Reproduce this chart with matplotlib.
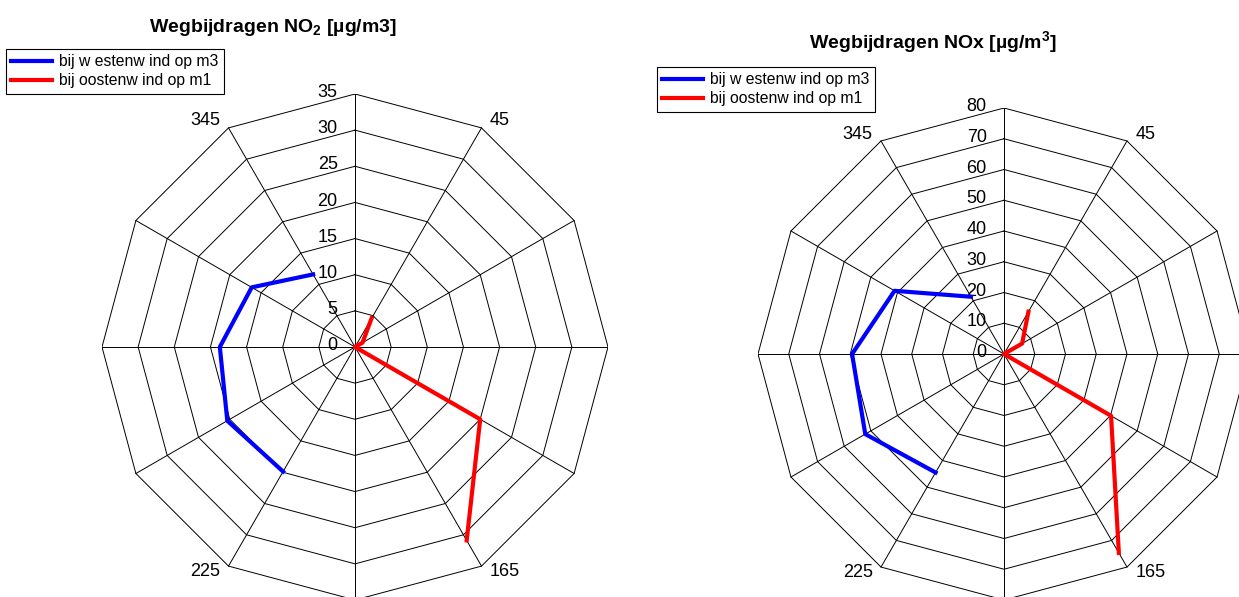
import numpy as np
import matplotlib.pyplot as plt

plt.rcParams['font.family'] = ['Liberation Sans', 'DejaVu Sans']
plt.rcParams['mathtext.fontset'] = 'custom'
plt.rcParams['mathtext.rm'] = 'Liberation Sans'
plt.rcParams['mathtext.bf'] = 'Liberation Sans:bold'

# wind sectors (degrees clockwise from north) and road contributions
west_angles = [210, 240, 270, 300, 330]
east_angles = [30, 60, 90, 120, 150]

no2_west = [19.9, 20.4, 18.7, 16.5, 11.6]
no2_east = [4.6, 1.2, 0.0, 20.0, 30.9]

nox_west = [44.5, 52.1, 49.4, 41.1, 21.5]
nox_east = [15.9, 6.8, 0.0, 40.2, 74.7]

sector_angles = [30, 150, 210, 330]
sector_labels = ['45', '165', '225', '345']

legend_labels = ['bij w estenw ind op m3', 'bij oostenw ind op m1']


def to_xy(angles, values):
    t = np.deg2rad(angles)
    v = np.asarray(values, dtype=float)
    return v * np.sin(t), v * np.cos(t)


def spider(ax, rmax, step):
    spokes = np.arange(0, 361, 30)
    rings = np.arange(step, rmax + step / 2, step)
    for r in rings:
        x, y = to_xy(spokes, np.full(len(spokes), r))
        ax.plot(x, y, color='black', lw=0.7, zorder=1)
    for a in spokes[:-1]:
        x, y = to_xy([a, a], [0, rmax])
        ax.plot(x, y, color='black', lw=0.7, zorder=1)
    for r in np.arange(0, rmax + step / 2, step):
        ax.annotate(f'{r:g}', (0, r), xytext=(-12.5, 1), textcoords='offset points',
                    ha='right', va='center', fontsize=13)
    offsets = {30: (6, 5, 'left'), 150: (6, -4, 'left'),
               210: (-6, -4, 'right'), 330: (-6, 5, 'right')}
    for a, lab in zip(sector_angles, sector_labels):
        x, y = to_xy([a], [rmax])
        dx, dy, ha = offsets[a]
        ax.annotate(lab, (x[0], y[0]), xytext=(dx, dy), textcoords='offset points',
                    ha=ha, va='center', fontsize=13)
    ax.set_xlim(-rmax, rmax)
    ax.set_ylim(-rmax, rmax)
    ax.axis('off')


W, H = 1239, 597
fig = plt.figure(figsize=(W / 100, H / 100), dpi=100)

# left: NO2
ax1 = fig.add_axes([102 / W, -3 / H, 506 / W, 506 / H])
spider(ax1, 35, 5)
l1, = ax1.plot(*to_xy(west_angles, no2_west), color='blue', lw=3, zorder=3)
l2, = ax1.plot(*to_xy(east_angles, no2_east), color='red', lw=3, zorder=3)
fig.text(273 / W, 1 - 28 / H, r'Wegbijdragen NO$_\mathbf{2}$ [µg/m3]',
         ha='center', va='center', fontsize=14, fontweight='bold')

# right: NOx
ax2 = fig.add_axes([758 / W, -3 / H, 492 / W, 492 / H])
spider(ax2, 80, 10)
ax2.plot(*to_xy(west_angles, nox_west), color='blue', lw=3, zorder=3)
ax2.plot(*to_xy(east_angles, nox_east), color='red', lw=3, zorder=3)
fig.text(933 / W, 1 - 43 / H, r'Wegbijdragen NOx [µg/m$^\mathbf{3}$]',
         ha='center', va='center', fontsize=14, fontweight='bold')

for x0, y0 in [(6, 49), (657, 67)]:
    leg = fig.legend([l1, l2], legend_labels, loc='upper left',
                     bbox_to_anchor=(x0 / W, 1 - y0 / H), borderaxespad=0,
                     fontsize=11.3, handlelength=2.6, handletextpad=0.45,
                     borderpad=0.35, labelspacing=0.25, fancybox=False,
                     framealpha=1, edgecolor='black')
    leg.get_frame().set_linewidth(0.8)

fig.savefig('out.png', dpi=100)
